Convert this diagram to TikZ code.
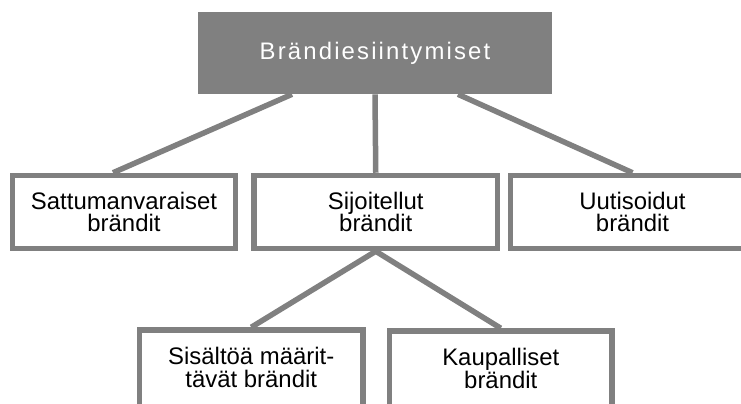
\documentclass[tikz,border=0pt]{standalone}
\usepackage{fontspec}
\setmainfont{Liberation Sans}
\newfontfamily\spacedfont[LetterSpace=9]{Liberation Sans}
\usetikzlibrary{calc}
\begin{document}
\begin{tikzpicture}[x=0.025cm,y=0.025cm,
	rootbox/.style={fill=gray,text=white,minimum width=8.85cm,minimum height=2.05cm,font=\spacedfont\fontsize{17pt}{20pt}\selectfont},
	brandbox/.style={draw=gray,line width=0.1375cm,fill=white,minimum height=1.825cm,align=center,inner sep=0pt,font=\fontsize{17pt}{16.2pt}\selectfont},
	link/.style={draw=gray,line width=0.1375cm}]
		\useasboundingbox (0,0) rectangle (741,-403);
		\clip (0,0) rectangle (741,-403);
		\node[rootbox] (root) at (375,-53) {Brändiesiintymiset};
		\node[brandbox,minimum width=5.575cm] (random) at (124,-212) {Sattumanvaraiset\\brändit};
		\node[brandbox,minimum width=6.09cm] (placed) at (375.75,-212) {Sijoitellut\\brändit};
		\node[brandbox,minimum width=6.09cm] (news) at (632.5,-212) {Uutisoidut\\brändit};
		% lower boxes run past the bottom edge
		\node[brandbox,minimum width=5.59cm,minimum height=2.42cm] (content) at (251.25,-378.4) {Sisältöä määrit-\\tävät brändit\\\mbox{}};
		\node[brandbox,minimum width=5.56cm,minimum height=2.42cm] (commercial) at (500.75,-379.4) {Kaupalliset\\brändit\\\mbox{}};
		\path[link] ($(root.south)+(-83,0)$) -- ($(random.north)+(-11,0)$)
		(root.south) -- (placed.north)
		($(root.south)+(83,0)$) -- (news.north);
		\path[link] (placed.south) -- (content.north)
		(placed.south) -- (commercial.north);
	\end{tikzpicture}
\end{document}
